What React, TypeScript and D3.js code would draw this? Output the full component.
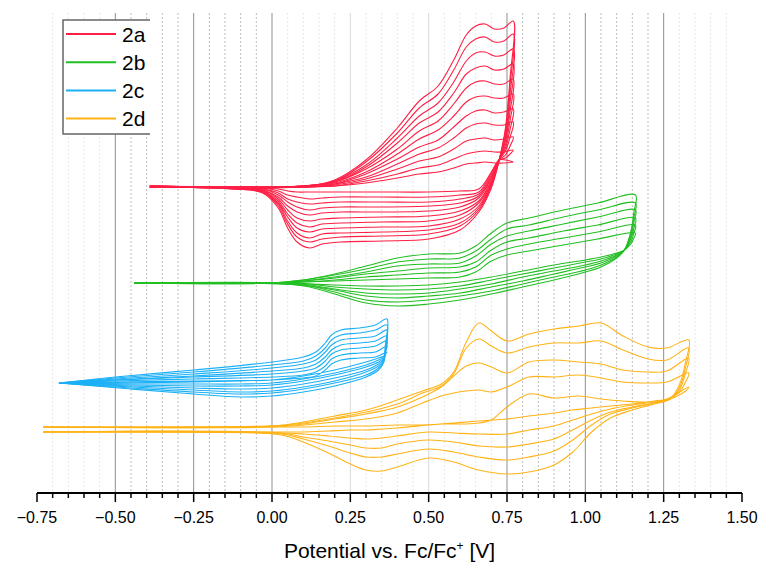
import * as d3 from 'd3';

const WIDTH = 763;
const HEIGHT = 566;
const MARGIN = { top: 13, right: 21, bottom: 73, left: 37 };

const FONT = '"Liberation Sans", Arial, Helvetica, sans-serif';

// Potential axis
const X_DOMAIN = [-0.75, 1.5];
// current, arbitrary units with each compound stacked on its own offset
const Y_DOMAIN = [7, 487];

const COLORS = {
  '2a': '#ff1f45',
  '2b': '#22bf22',
  '2c': '#1cb0f6',
  '2d': '#ffb317',
};

// ---- 2a: forward (anodic) and reverse sweeps, one row per scan ----
const E_2A_FWD = [-0.39, 0.1, 0.2, 0.3, 0.4, 0.47, 0.53, 0.58, 0.62, 0.65, 0.68, 0.71, 0.74, 0.77];
const E_2A_REV = [0.76, 0.745, 0.725, 0.7, 0.66, 0.6, 0.5, 0.35, 0.22, 0.16, 0.12, 0.08, 0.05, 0.02, -0.03, -0.12, -0.39];
const I_2A_FWD = [
  [314, 314, 320, 340, 372, 399, 414, 440, 465, 474, 476, 471, 472, 479],
  [314, 314, 319, 338, 367, 392, 406, 430, 453, 461, 463, 458, 459, 466],
  [314, 314, 319, 335, 362, 384, 397, 418, 439, 447, 448, 444, 445, 451],
  [314, 314, 318, 333, 357, 377, 388, 407, 426, 432, 434, 430, 431, 436],
  [314, 314, 318, 331, 351, 369, 379, 396, 412, 418, 419, 416, 416, 421],
  [314, 314, 317, 328, 346, 361, 370, 384, 398, 403, 404, 402, 402, 406],
  [313, 313, 316, 326, 341, 353, 360, 373, 384, 389, 390, 387, 388, 391],
  [313, 313, 316, 323, 336, 346, 352, 362, 372, 376, 377, 375, 375, 378],
  [313, 313, 315, 321, 331, 339, 343, 351, 359, 361, 362, 360, 361, 363],
  [313, 313, 314, 319, 326, 332, 335, 341, 346, 348, 349, 348, 348, 350],
  [313, 313, 314, 317, 322, 326, 328, 332, 336, 337, 338, 337, 337, 338],
];
const I_2A_REV = [
  [423, 372, 340, 312, 288, 270, 261, 259, 258, 256, 252, 258, 272, 292, 307, 311, 313],
  [416, 369, 340, 314, 290, 274, 266, 264, 263, 261, 258, 263, 276, 294, 308, 311, 313],
  [407, 365, 340, 315, 292, 277, 270, 268, 267, 266, 262, 267, 279, 296, 308, 311, 313],
  [398, 362, 340, 317, 294, 281, 274, 273, 272, 271, 268, 272, 283, 297, 309, 312, 313],
  [389, 359, 340, 318, 297, 285, 279, 278, 277, 276, 273, 277, 286, 299, 309, 312, 313],
  [380, 355, 340, 320, 299, 289, 284, 283, 282, 281, 279, 282, 290, 301, 310, 312, 313],
  [371, 352, 340, 322, 302, 293, 289, 288, 288, 287, 285, 288, 294, 303, 310, 312, 313],
  [363, 349, 340, 323, 304, 297, 294, 293, 293, 292, 290, 293, 298, 305, 311, 312, 313],
  [354, 345, 340, 325, 306, 301, 298, 298, 298, 297, 296, 298, 301, 307, 311, 312, 313],
  [346, 342, 340, 327, 308, 305, 303, 303, 303, 302, 301, 303, 305, 309, 312, 313, 313],
  [339, 340, 340, 328, 311, 309, 308, 308, 308, 308, 308, 308, 309, 311, 312, 313, 313],
];

// ---- 2b ----
const E_2B_FWD = [-0.44, 0.0, 0.1, 0.2, 0.3, 0.4, 0.5, 0.6, 0.65, 0.7, 0.75, 0.82, 0.93, 1.04, 1.16];
const E_2B_REV = [1.155, 1.145, 1.125, 1.1, 1.05, 1.0, 0.9, 0.8, 0.7, 0.6, 0.5, 0.4, 0.3, 0.2, 0.12, 0.04, -0.44];
const I_2B_FWD = [
  [217, 217, 220, 226, 234, 242, 246, 247, 254, 267, 277, 282, 290, 297, 305],
  [217, 217, 220, 225, 231, 238, 241, 242, 249, 261, 271, 275, 283, 290, 297],
  [217, 217, 219, 223, 228, 234, 236, 237, 244, 256, 264, 269, 276, 283, 290],
  [217, 217, 219, 222, 226, 229, 232, 233, 238, 250, 258, 262, 269, 275, 282],
  [217, 217, 218, 220, 223, 225, 227, 228, 233, 245, 251, 256, 262, 268, 275],
  [217, 217, 218, 219, 220, 221, 222, 223, 228, 239, 245, 249, 255, 261, 267],
];
const I_2B_REV = [
  [288, 268, 250, 242, 233, 228, 220, 213, 206, 200, 196, 194, 197, 206, 213, 216, 217],
  [283, 266, 250, 243, 235, 230, 223, 216, 209, 204, 200, 198, 200, 208, 214, 216, 217],
  [278, 263, 250, 244, 237, 233, 226, 219, 213, 207, 204, 202, 204, 210, 214, 216, 217],
  [272, 261, 250, 245, 239, 235, 229, 223, 216, 211, 207, 206, 207, 211, 215, 217, 217],
  [267, 258, 250, 246, 241, 238, 232, 226, 220, 214, 211, 210, 211, 213, 216, 217, 217],
  [262, 256, 250, 247, 243, 240, 235, 229, 223, 218, 215, 214, 214, 215, 216, 217, 217],
];

// ---- 2c ----
const E_2C_FWD = [-0.68, -0.5, -0.25, 0.0, 0.1, 0.14, 0.17, 0.19, 0.22, 0.28, 0.33, 0.367];
const E_2C_REV = [0.362, 0.357, 0.34, 0.3, 0.2, 0.1, 0.0, -0.1, -0.25, -0.45, -0.68];
const I_2C_FWD = [
  [117, 123, 130, 138, 143, 148, 157, 165, 170, 172, 175, 181],
  [117, 122, 128, 135, 139, 144, 152, 160, 165, 167, 170, 175],
  [117, 121, 126, 132, 136, 140, 148, 155, 160, 162, 164, 170],
  [117, 120, 124, 129, 132, 136, 143, 150, 155, 157, 159, 164],
  [117, 120, 123, 126, 129, 132, 139, 146, 150, 152, 154, 159],
  [117, 119, 121, 123, 125, 128, 134, 141, 145, 147, 148, 154],
  [117, 118, 119, 120, 122, 124, 130, 136, 140, 142, 143, 148],
];
const I_2C_REV = [
  [155, 138, 130, 123, 114, 108, 104, 103, 106, 111, 117],
  [153, 139, 132, 125, 117, 111, 107, 106, 108, 112, 117],
  [152, 140, 134, 128, 119, 113, 109, 108, 110, 113, 117],
  [150, 141, 136, 130, 122, 116, 112, 111, 112, 114, 117],
  [149, 142, 138, 133, 125, 119, 115, 114, 114, 115, 117],
  [148, 143, 140, 135, 127, 121, 117, 116, 116, 116, 117],
  [146, 144, 142, 138, 130, 124, 120, 119, 118, 117, 117],
];

// ---- 2d ----
const E_2D_FWD = [-0.73, 0.0, 0.1, 0.2, 0.3, 0.4, 0.48, 0.54, 0.58, 0.62, 0.66, 0.7, 0.75, 0.82, 0.9, 0.98, 1.05, 1.12, 1.2, 1.26, 1.33];
const E_2D_REV = [1.32, 1.3, 1.27, 1.22, 1.15, 1.08, 1.02, 0.96, 0.9, 0.82, 0.75, 0.66, 0.58, 0.5, 0.4, 0.35, 0.3, 0.25, 0.18, 0.1, 0.03, -0.73];
const I_2D_FWD = [
  [73, 74, 78, 84, 90, 100, 109, 116, 128, 158, 177, 169, 159, 166, 171, 174, 177, 164, 153, 152, 160],
  [73, 74, 77, 82, 88, 96, 107, 114, 126, 152, 161, 154, 147, 153, 157, 157, 159, 150, 141, 140, 152],
  [73, 74, 76, 81, 86, 93, 103, 113, 124, 134, 137, 133, 127, 138, 140, 138, 136, 130, 128, 129, 142],
  [73, 73, 75, 78, 81, 87, 97, 104, 107, 109, 110, 108, 113, 123, 123, 125, 122, 118, 117, 118, 127],
  [73, 73, 73, 74, 74, 75, 75, 76, 76, 76, 77, 80, 93, 106, 102, 104, 101, 99, 98, 101, 113],
];
const I_2D_REV = [
  [138, 115, 101, 96, 90, 82, 68, 48, 35, 28, 26, 30, 38, 42, 33, 29, 30, 36, 47, 58, 65, 68],
  [133, 112, 101, 97, 92, 86, 75, 60, 49, 43, 40, 43, 48, 51, 46, 43, 43, 47, 54, 61, 66, 68],
  [127, 110, 101, 97, 93, 88, 80, 70, 61, 56, 53, 54, 58, 60, 56, 52, 52, 55, 59, 63, 67, 68],
  [118, 108, 101, 98, 95, 91, 86, 80, 74, 70, 66, 66, 67, 68, 64, 62, 61, 62, 64, 66, 67, 68],
  [109, 105, 101, 99, 96, 94, 92, 90, 87, 84, 81, 79, 77, 75, 72, 71, 70, 70, 69, 68, 68, 68],
];

const LEGEND = ['2a', '2b', '2c', '2d'];

const MAJOR_TICKS = [-0.75, -0.5, -0.25, 0, 0.25, 0.5, 0.75, 1.0, 1.25, 1.5];
const GRID_DARK = [-0.5, -0.25, 0, 0.75, 1.0, 1.25];
const GRID_LIGHT = [0.25, 0.5];

const SERIES = [
  { name: '2d', fwdE: E_2D_FWD, revE: E_2D_REV, fwd: I_2D_FWD, rev: I_2D_REV },
  { name: '2c', fwdE: E_2C_FWD, revE: E_2C_REV, fwd: I_2C_FWD, rev: I_2C_REV },
  { name: '2b', fwdE: E_2B_FWD, revE: E_2B_REV, fwd: I_2B_FWD, rev: I_2B_REV },
  { name: '2a', fwdE: E_2A_FWD, revE: E_2A_REV, fwd: I_2A_FWD, rev: I_2A_REV },
];

export default function App() {
  const x = d3.scaleLinear().domain(X_DOMAIN).range([MARGIN.left, WIDTH - MARGIN.right]);
  const y = d3.scaleLinear().domain(Y_DOMAIN).range([HEIGHT - MARGIN.bottom, MARGIN.top]);
  const axisY = HEIGHT - MARGIN.bottom;

  const line = d3
    .line<[number, number]>()
    .x((d) => x(d[0]))
    .y((d) => y(d[1]))
    .curve(d3.curveCatmullRom.alpha(0.5));

  // minor ticks / dotted grid every 0.05 V
  const minor = d3.range(-15, 31).map((i) => Math.round(i * 5) / 100).filter((v) => Math.abs((v * 4) % 1) > 1e-6);
  const darkMinor = (v: number) => (v > -0.5 && v < 0) || (v > 0.75 && v < 1.25);
  const fmt = d3.format('.2f');

  // legend layout
  const lg = { left: 63, top: 20, right: 150, bottom: 134, row0: 34, rowStep: 28.2 };

  return (
    <div style={{ position: 'absolute', left: 0, top: 0 }}>
      <svg width={WIDTH} height={HEIGHT} style={{ display: 'block', background: '#fff', fontFamily: FONT }}>
        {/* grid */}
        <g>
          {minor.map((v) => (
            <line
              key={'m' + v}
              x1={x(v)}
              x2={x(v)}
              y1={MARGIN.top}
              y2={axisY}
              stroke={darkMinor(v) ? '#bdbdbd' : '#e6e6e6'}
              strokeWidth={1}
              strokeDasharray="2 2"
            />
          ))}
          {GRID_LIGHT.map((v) => (
            <line key={'l' + v} x1={x(v)} x2={x(v)} y1={MARGIN.top} y2={axisY} stroke="#d9d9d9" strokeWidth={1} />
          ))}
          {GRID_DARK.map((v) => (
            <line key={'d' + v} x1={x(v)} x2={x(v)} y1={MARGIN.top} y2={axisY} stroke="#8f8f8f" strokeWidth={1} />
          ))}
        </g>

        {/* voltammograms */}
        {SERIES.map((s) => (
          <g key={s.name} fill="none" stroke={COLORS[s.name as keyof typeof COLORS]} strokeWidth={1.1}>
            {s.fwd.map((f, k) => {
              const pts: [number, number][] = [
                ...s.fwdE.map((e, i) => [e, f[i]] as [number, number]),
                ...s.revE.map((e, i) => [e, s.rev[k][i]] as [number, number]),
              ];
              return <path key={k} d={line(pts) || ''} />;
            })}
          </g>
        ))}

        {/* x axis */}
        <g>
          <line x1={x(X_DOMAIN[0])} x2={x(X_DOMAIN[1])} y1={axisY} y2={axisY} stroke="#000" strokeWidth={2} />
          {minor.map((v) => (
            <line key={'mt' + v} x1={x(v)} x2={x(v)} y1={axisY} y2={axisY + 5} stroke="#000" strokeWidth={1.5} />
          ))}
          {MAJOR_TICKS.map((v) => (
            <g key={'t' + v}>
              <line x1={x(v)} x2={x(v)} y1={axisY} y2={axisY + 9} stroke="#000" strokeWidth={1.5} />
              <text x={x(v)} y={axisY + 30} textAnchor="middle" fontSize={16} fill="#000">
                {fmt(v)}
              </text>
            </g>
          ))}
          <text x={(x(X_DOMAIN[0]) + x(X_DOMAIN[1])) / 2} y={HEIGHT - 8} textAnchor="middle" fontSize={21} fill="#000">
            Potential vs. Fc/Fc
            <tspan dy={-8} fontSize={12}>+</tspan>
            <tspan dy={8}> [V]</tspan>
          </text>
        </g>

        {/* legend */}
        <g>
          <rect x={lg.left} y={lg.top} width={lg.right - lg.left} height={lg.bottom - lg.top} fill="#fff" />
          <path
            d={`M${lg.right},${lg.top}H${lg.left}V${lg.bottom}H${lg.right}`}
            fill="none"
            stroke="#666"
            strokeWidth={1.5}
          />
          {LEGEND.map((name, i) => {
            const cy = lg.row0 + i * lg.rowStep;
            return (
              <g key={name}>
                <line x1={66} x2={116} y1={cy} y2={cy} stroke={COLORS[name as keyof typeof COLORS]} strokeWidth={2} />
                <text x={122} y={cy + 7.5} fontSize={21} fill="#000">
                  {name}
                </text>
              </g>
            );
          })}
        </g>
      </svg>
    </div>
  );
}
